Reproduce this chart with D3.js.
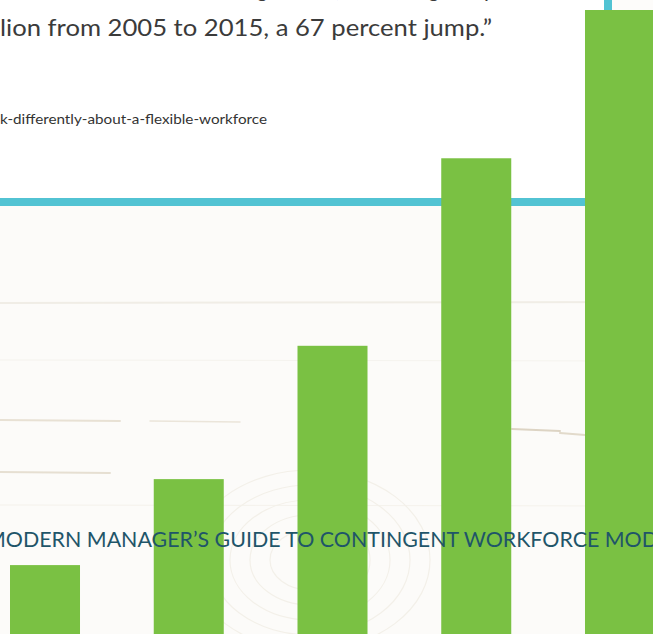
<!DOCTYPE html>
<html>
<head>
<meta charset="utf-8">
<script src="https://cdn.jsdelivr.net/npm/d3@7"></script>
<style>
html,body{margin:0;padding:0;background:#fff;overflow:hidden;}
svg{display:block;}
</style>
</head>
<body>
<div id="chart"></div>
<script>
// ---- data ----
const categories = ["1", "2", "3", "4", "5"];
const values = [10.9, 24.7, 46.1, 76.2, 100];
const quoteLines = [
  "ers in alternative work arrangements, increasing comp",
  "lion from 2005 to 2015, a 67 percent jump.\u201D"
];
const sourceText = "k-differently-about-a-flexible-workforce";
const footerText = "MODERN MANAGER\u2019S GUIDE TO CONTINGENT WORKFORCE MOD";

const W = 653, H = 634;
const svg = d3.select("#chart").append("svg").attr("width", W).attr("height", H);

// background: white top, light wood bottom
svg.append("rect").attr("x", 0).attr("y", 0).attr("width", W).attr("height", H).attr("fill", "#ffffff");
svg.append("rect").attr("x", 0).attr("y", 206).attr("width", W).attr("height", H - 206).attr("fill", "#fcfbf9");
svg.append("rect").attr("x", 612).attr("y", 0).attr("width", W - 612).attr("height", 206).attr("fill", "#fdfcfa");

// faint wood grain
const grain = svg.append("g").attr("fill", "none").attr("stroke-linecap", "round");
const seams = [[0, 303, 653, 302, 2, "#f0ede6"], [0, 420, 120, 421, 2, "#e8e1d4"], [150, 421, 240, 422, 1.5, "#ebe5da"],
  [0, 472, 110, 473, 2, "#e6dfd2"], [512, 429, 560, 431, 2, "#ddd4c4"], [560, 433, 585, 435, 2, "#e2dacb"],
  [0, 360, 653, 361, 1, "#f5f3ee"], [0, 505, 653, 506, 1, "#f5f2ec"]];
seams.forEach(s => grain.append("path")
  .attr("d", `M${s[0]},${s[1]}L${s[2]},${s[3]}`)
  .attr("stroke", s[5]).attr("stroke-width", s[4]));
for (let i = 0; i < 5; i++) {
  grain.append("ellipse").attr("cx", 310).attr("cy", 560).attr("rx", 40 + i * 20).attr("ry", 30 + i * 15)
    .attr("stroke", "#f3f0e9").attr("stroke-width", 1.2);
}

// blue rules
svg.append("rect").attr("x", 0).attr("y", 198).attr("width", 608).attr("height", 8).attr("fill", "#52c3d3");
svg.append("rect").attr("x", 604).attr("y", 0).attr("width", 8).attr("height", 206).attr("fill", "#52c3d3");

// quote text
const qfont = "Lato, 'Open Sans', sans-serif";
svg.append("text").attr("x", -4).attr("y", -3).attr("font-family", qfont).attr("font-size", 23)
  .attr("fill", "#3b3b3b").attr("textLength", 500).attr("lengthAdjust", "spacingAndGlyphs").text(quoteLines[0]);
svg.append("text").attr("x", 0).attr("y", 36).attr("font-family", qfont).attr("font-size", 23)
  .attr("fill", "#3b3b3b").attr("textLength", 492).attr("lengthAdjust", "spacingAndGlyphs").text(quoteLines[1]);
svg.append("text").attr("x", 0).attr("y", 124).attr("font-family", qfont).attr("font-size", 13.5)
  .attr("fill", "#333333").attr("textLength", 267).attr("lengthAdjust", "spacingAndGlyphs").text(sourceText);

// bars
const x = d3.scaleBand().domain(categories).range([10, 655]).paddingInner(0.513).paddingOuter(0).align(0);
const y = d3.scaleLinear().domain([0, 100]).range([633, 10]);

svg.append("g").selectAll("rect").data(values).join("rect")
  .attr("x", (d, i) => x(categories[i]))
  .attr("width", x.bandwidth())
  .attr("y", d => y(d))
  .attr("height", d => y(0) - y(d) + 1)
  .attr("fill", "#7ac143");

// footer title over bars
svg.append("text").attr("x", -14).attr("y", 547)
  .attr("font-family", "Lato, 'Open Sans', sans-serif").attr("font-size", 21)
  .attr("fill", "#1f5569").attr("textLength", 672).attr("lengthAdjust", "spacingAndGlyphs")
  .text(footerText);
</script>
</body>
</html>
